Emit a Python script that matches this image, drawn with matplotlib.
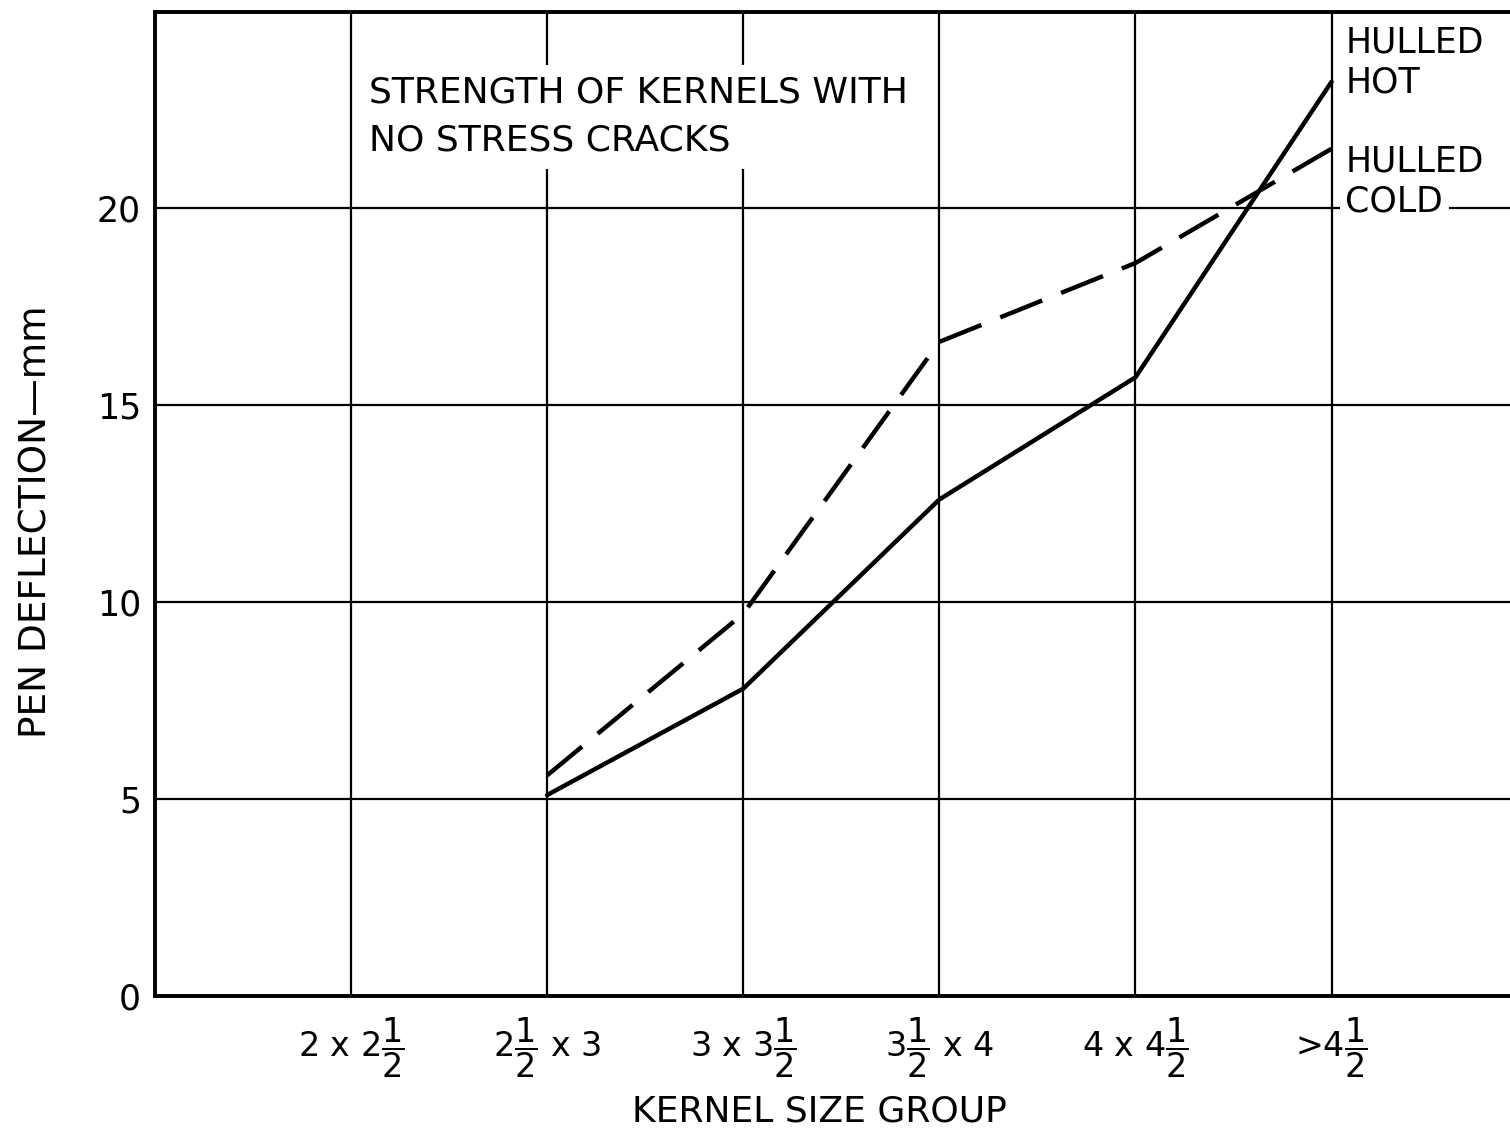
import numpy as np
import matplotlib
matplotlib.use("Agg")
import matplotlib.pyplot as plt

# kernel size groups (x positions 1..6)
groups = [r"2 x 2$\dfrac{1}{2}$", r"2$\dfrac{1}{2}$ x 3", r"3 x 3$\dfrac{1}{2}$",
          r"3$\dfrac{1}{2}$ x 4", r"4 x 4$\dfrac{1}{2}$", r">4$\dfrac{1}{2}$"]
grp_pos = [1, 2, 3, 4, 5, 6]

# pen deflection, mm
hot_x = [2, 3, 4, 5, 6]
hot_y = [5.1, 7.8, 12.6, 15.7, 23.2]
cold_x = [2, 3, 4, 5, 6]
cold_y = [5.6, 9.7, 16.6, 18.6, 21.5]

yticks = [0, 5, 10, 15, 20]

plt.rcParams['font.family'] = ['DejaVu Sans']
plt.rcParams['mathtext.fontset'] = 'dejavusans'

fig = plt.figure(figsize=(15.1, 11.33), dpi=100)
ax = fig.add_axes([155/1510, 1 - 996/1133, 1 - 155/1510, (996 - 12)/1133])

ax.set_xlim(0, 6.91)
ax.set_ylim(0, 24.97)

# grid
for x in grp_pos:
    ax.axvline(x, color='black', lw=1.6, zorder=1)
for y in yticks[1:]:
    ax.axhline(y, color='black', lw=1.6, zorder=1)

ax.plot(hot_x, hot_y, color='black', lw=3.2, solid_capstyle='round', zorder=3)

# stretch the dash pattern a little so a dash sits at both ends
lw = 3.2
pts = ax.transData.transform(np.column_stack([cold_x, cold_y]))
length = np.sum(np.hypot(*np.diff(pts, axis=0).T)) * 72 / fig.dpi
on, off = 10 * lw, 4.5 * lw
n = round((length - on) / (on + off))
k = length / (n * (on + off) + on)
ax.plot(cold_x, cold_y, color='black', lw=lw, dashes=(10 * k, 4.5 * k), zorder=3)

for s in ['top', 'left', 'bottom']:
    ax.spines[s].set_linewidth(2.8)
ax.spines['right'].set_visible(False)

ax.set_xticks(grp_pos)
ax.set_xticklabels(groups, fontsize=24)
ax.set_yticks(yticks)
ax.set_yticklabels([str(v) for v in yticks], fontsize=25)
ax.tick_params(length=0, pad=10)
ax.tick_params(axis='x', pad=14)

ax.set_xlabel("KERNEL SIZE GROUP", fontsize=26)
ax.xaxis.set_label_coords(0.49, -0.1)
ax.set_ylabel("PEN DEFLECTION\u2014mm", fontsize=27)
ax.yaxis.set_label_coords(-0.074, 0.482)

box = dict(facecolor='white', edgecolor='none', pad=4)
ax.text(1.09, 23.35, "STRENGTH OF KERNELS WITH\nNO STRESS CRACKS", fontsize=26,
        va='top', ha='left', linespacing=1.5,
        bbox=dict(facecolor='white', edgecolor='none', pad=8), zorder=4)
ax.text(6.07, 24.62, "HULLED", fontsize=25, va='top', ha='left', bbox=box, zorder=4)
ax.text(6.07, 23.6, "HOT", fontsize=25, va='top', ha='left', bbox=box, zorder=4)
ax.text(6.07, 21.6, "HULLED", fontsize=25, va='top', ha='left', bbox=box, zorder=4)
ax.text(6.07, 20.58, "COLD", fontsize=25, va='top', ha='left', bbox=box, zorder=4)

fig.savefig("out.png", dpi=100)
